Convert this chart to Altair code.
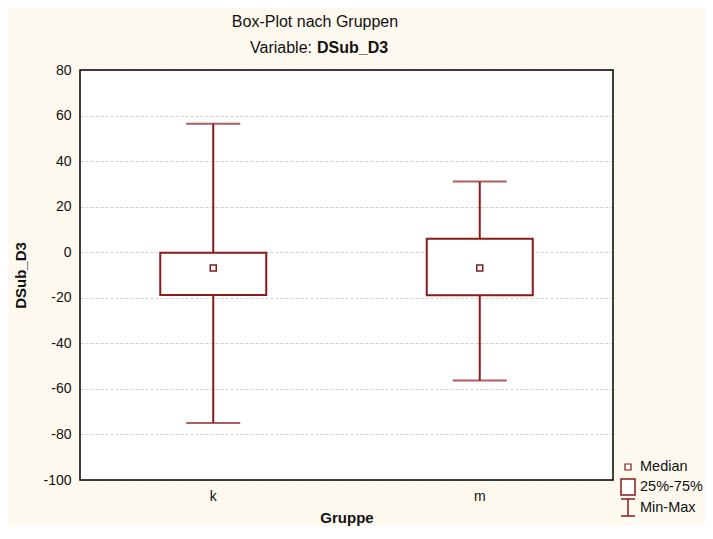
import altair as alt
import pandas as pd

groups = ["k", "m"]
mins = [-75.0, -56.3]
q1s = [-18.8, -18.9]
medians = [-6.9, -6.9]
q3s = [-0.2, 5.9]
maxs = [56.4, 31.0]

df = pd.DataFrame({"Gruppe": groups, "min": mins, "q1": q1s, "median": medians, "q3": q3s, "max": maxs})

RED = "#8b1a1a"
BG = "#fdf9ef"
FONT = "Liberation Sans"

x = alt.X("Gruppe:N", scale=alt.Scale(paddingInner=0, paddingOuter=0),
          axis=alt.Axis(title="Gruppe", labelAngle=0, ticks=False, labelPadding=9,
                        labelFontSize=14, titleFontSize=15, titleFontWeight="bold",
                        titlePadding=7, domain=False, grid=False))
yscale = alt.Scale(domain=[-100, 80], nice=False, zero=False)
yaxis = alt.Axis(title="DSub_D3", values=list(range(-100, 81, 20)), ticks=False,
                 labelExpr="replace(datum.label, '\u2212', '-')",
                 labelPadding=9, labelFontSize=14, titleFontSize=15, titleFontWeight="bold",
                 titlePadding=14, domain=False, gridColor="#cfcfcf", gridDash=[3, 2], gridWidth=1)

base = alt.Chart(df)

whisk = base.mark_rule(color=RED, strokeWidth=2).encode(
    x=x, y=alt.Y("min:Q", scale=yscale, axis=yaxis), y2="max:Q")
box = base.mark_bar(size=106, fill="white", stroke=RED, strokeWidth=2).encode(
    x=x, y=alt.Y("q1:Q", scale=yscale), y2="q3:Q")
cap_lo = base.mark_tick(size=54, thickness=2, color=RED, orient="horizontal").encode(
    x=x, y=alt.Y("min:Q", scale=yscale))
cap_hi = base.mark_tick(size=54, thickness=2, color=RED, orient="horizontal").encode(
    x=x, y=alt.Y("max:Q", scale=yscale))
med = base.mark_point(shape="square", size=36, filled=False, fill="white", color=RED,
                      strokeWidth=1.5, opacity=1).encode(x=x, y=alt.Y("median:Q", scale=yscale))

one = pd.DataFrame({"a": [0]})
ob = alt.Chart(one)

t1 = ob.mark_text(text="Box-Plot nach Gruppen", font=FONT, fontSize=16, color="#111",
                  align="center", baseline="middle").encode(x=alt.value(235), y=alt.value(-48))
t2a = ob.mark_text(text="Variable:", font=FONT, fontSize=16, color="#111",
                   align="right", baseline="middle").encode(x=alt.value(232), y=alt.value(-22))
t2b = ob.mark_text(text="DSub_D3", font=FONT, fontSize=16, fontWeight="bold", color="#111",
                   align="left", baseline="middle").encode(x=alt.value(237), y=alt.value(-22))

frame = ob.mark_rect(fill=None, stroke="black", strokeWidth=1.5).encode(
    x=alt.value(0), x2=alt.value(533), y=alt.value(0), y2=alt.value(410))

lg_med = ob.mark_rect(fill="white", stroke=RED, strokeWidth=1.2).encode(
    x=alt.value(545), x2=alt.value(551), y=alt.value(394), y2=alt.value(400))
lg_box = ob.mark_rect(fill="white", stroke=RED, strokeWidth=1.5).encode(
    x=alt.value(541), x2=alt.value(555), y=alt.value(409), y2=alt.value(425))
lg_w1 = ob.mark_rule(color=RED, strokeWidth=1.5).encode(
    x=alt.value(548), y=alt.value(429), y2=alt.value(446))
lg_w2 = ob.mark_rule(color=RED, strokeWidth=1.5).encode(
    x=alt.value(541), x2=alt.value(555), y=alt.value(429))
lg_w3 = ob.mark_rule(color=RED, strokeWidth=1.5).encode(
    x=alt.value(541), x2=alt.value(555), y=alt.value(446))
lg_t = []
for txt, yy in [("Median", 397), ("25%-75%", 417), ("Min-Max", 438)]:
    lg_t.append(ob.mark_text(text=txt, font=FONT, fontSize=14.5, color="#111",
                             align="left", baseline="middle").encode(x=alt.value(560), y=alt.value(yy)))

chart = alt.layer(whisk, box, cap_lo, cap_hi, med, frame, t1, t2a, t2b,
                  lg_med, lg_box, lg_w1, lg_w2, lg_w3, *lg_t).properties(
    width=533, height=410,
    autosize=alt.AutoSizeParams(type="none"),
    padding={"left": 72, "top": 62, "right": 92, "bottom": 46},
    background=BG,
).configure_view(fill="white", stroke=None).configure_axis(
    labelFont=FONT, titleFont=FONT, labelColor="#111", titleColor="#111")

chart.save("out.html", embed_options={"renderer": "svg", "actions": False})
